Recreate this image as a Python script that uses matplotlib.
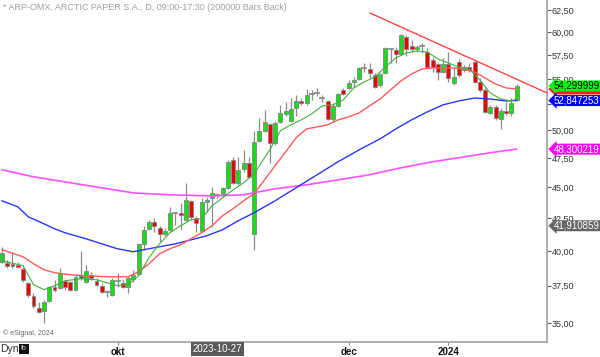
import matplotlib
matplotlib.use('Agg')
import matplotlib.pyplot as plt
import matplotlib.transforms as mtransforms
from matplotlib.patches import Rectangle
from matplotlib.ticker import FixedLocator, FixedFormatter, NullLocator

plt.rcParams['font.family'] = ['Liberation Sans', 'DejaVu Sans']

# ---------------- data ----------------
opens = [39.20, 39.13, 39.06, 38.99, 38.70, 37.71, 36.82, 36.00, 35.80, 36.48,
         37.44, 37.37, 37.85, 37.75, 37.23, 38.20, 37.78, 38.27, 37.85, 37.51,
         37.05, 36.89, 37.85, 37.71, 37.44, 37.99, 38.35, 40.53, 41.68, 42.21,
         41.75, 41.29, 41.60, 42.93, 42.93, 42.37, 43.89, 42.53, 41.52, 43.81,
         44.13, 44.38, 44.46, 44.96, 47.35, 45.38, 46.57, 47.09, 41.29, 49.05,
         49.97, 50.62, 48.87, 50.81, 51.55, 50.90, 52.14, 52.81, 52.61, 53.50,
         53.59, 53.10, 52.81, 51.09, 52.33, 53.90, 54.10, 54.70, 55.01, 56.14,
         56.03, 55.42, 54.40, 55.62, 58.15, 58.04, 57.61, 59.45, 58.48, 58.15,
         58.48, 57.82, 56.98, 56.56, 55.72, 56.56, 54.60, 56.77, 55.93, 56.24,
         56.77, 54.70, 53.90, 51.65, 52.24, 51.09, 51.84, 51.65, 52.91]
highs = [40.30, 39.35, 39.94, 39.20, 38.85, 37.78, 37.02, 36.41, 36.54, 37.51,
         37.92, 38.78, 37.99, 37.85, 38.27, 40.00, 38.99, 38.49, 38.06, 37.71,
         37.23, 38.06, 38.42, 37.99, 38.20, 38.63, 40.61, 41.91, 42.37, 42.53,
         41.91, 41.75, 43.41, 43.01, 43.73, 45.38, 43.97, 42.69, 44.13, 44.21,
         45.05, 44.54, 45.05, 47.35, 47.61, 47.61, 48.23, 47.61, 49.97, 51.18,
         51.94, 50.71, 50.90, 52.40, 52.71, 53.10, 53.40, 53.10, 53.99, 53.90,
         54.10, 53.40, 52.91, 52.61, 53.59, 54.10, 54.91, 55.21, 56.24, 56.66,
         56.66, 55.62, 55.62, 58.37, 58.26, 58.37, 59.78, 59.67, 59.12, 58.59,
         58.81, 58.26, 57.30, 56.66, 57.19, 57.82, 56.24, 57.09, 56.45, 56.66,
         56.98, 55.11, 54.10, 52.43, 52.43, 52.14, 52.71, 53.10, 54.50]
lows = [39.10, 38.78, 38.78, 38.78, 37.78, 36.75, 36.00, 35.67, 35.02, 36.41,
        37.09, 37.30, 37.23, 37.15, 37.16, 37.92, 37.71, 37.92, 37.51, 37.02,
        36.75, 36.82, 37.44, 37.37, 37.02, 37.78, 38.27, 40.09, 41.60, 41.45,
        40.68, 41.14, 41.52, 41.98, 41.60, 42.30, 42.37, 41.45, 41.45, 43.01,
        41.83, 44.13, 44.21, 44.90, 45.30, 45.21, 46.31, 45.80, 40.09, 48.93,
        49.88, 47.09, 48.70, 50.71, 51.37, 50.81, 51.37, 52.43, 52.43, 52.91,
        53.30, 52.71, 50.99, 50.81, 52.24, 53.40, 53.90, 54.20, 54.91, 55.72,
        55.11, 54.10, 54.20, 55.52, 56.66, 56.66, 57.51, 57.40, 57.82, 57.82,
        57.72, 56.14, 55.72, 54.91, 55.62, 54.70, 54.40, 55.21, 55.72, 55.72,
        54.60, 53.70, 51.65, 51.56, 50.99, 50.14, 51.46, 51.37, 52.81]
closes = [39.85, 38.92, 38.92, 38.85, 37.92, 36.89, 36.14, 35.74, 36.41, 37.44,
          37.23, 38.42, 37.40, 37.20, 38.13, 38.06, 38.56, 38.06, 37.58, 37.09,
          37.05, 37.92, 37.85, 37.44, 38.06, 38.27, 40.53, 41.60, 42.21, 41.91,
          41.29, 41.52, 42.93, 42.93, 42.77, 43.97, 42.61, 42.13, 43.81, 43.97,
          44.54, 44.38, 44.96, 47.18, 45.38, 46.48, 47.09, 45.89, 48.93, 49.97,
          50.81, 48.87, 50.71, 51.65, 51.85, 52.04, 52.81, 52.61, 53.40, 53.50,
          53.59, 53.10, 51.09, 52.33, 53.50, 53.50, 54.60, 54.91, 56.14, 56.14,
          55.62, 54.20, 55.52, 58.26, 58.15, 57.61, 59.67, 58.15, 58.15, 58.37,
          58.48, 56.24, 56.24, 55.72, 56.56, 55.11, 55.21, 55.42, 56.24, 55.93,
          54.70, 53.90, 51.75, 52.24, 51.18, 51.84, 51.65, 52.61, 54.30]

# moving averages (read at selected bars)
ma_green_x = [0, 4, 6, 8, 10, 12, 15, 18, 20, 22, 24, 26, 28, 30, 32, 34, 36, 38, 40, 42,
              44, 46, 48, 49, 51, 53, 55, 57, 59, 61, 63, 65, 67, 69, 71, 73, 75, 77, 79,
              81, 83, 85, 87, 89, 91, 93, 95, 97, 98]
ma_green_y = [39.28, 38.92, 37.58, 37.23, 37.51, 37.85, 37.99, 37.92, 37.71, 37.51, 37.58,
              38.20, 39.50, 40.53, 41.37, 41.91, 42.37, 42.45, 43.49, 44.13, 44.79, 45.38,
              46.14, 46.83, 48.23, 49.97, 50.52, 50.99, 51.56, 52.33, 52.43, 52.91, 54.10,
              54.70, 55.21, 56.24, 57.19, 57.72, 57.93, 57.82, 57.09, 56.66, 56.24, 56.03,
              54.91, 53.59, 53.00, 52.81, 53.00]
ma_red_x = [0, 4, 6, 8, 10, 13, 16, 20, 24, 26, 28, 30, 32, 34, 36, 38, 40, 42, 44, 46,
            48, 50, 52, 54, 56, 58, 60, 62, 64, 66, 68, 70, 72, 74, 76, 78, 80, 82, 84,
            86, 88, 90, 92, 94, 96, 98]
ma_red_y = [40.09, 39.57, 39.06, 38.63, 38.42, 38.27, 38.20, 38.13, 38.13, 38.49, 39.06,
            39.79, 40.16, 40.46, 40.91, 41.37, 41.91, 42.69, 43.25, 43.89, 44.46, 45.63,
            46.83, 48.05, 49.32, 50.14, 50.33, 50.52, 50.99, 51.27, 51.65, 52.33, 53.00,
            53.90, 54.81, 55.52, 56.03, 56.14, 56.14, 56.14, 56.03, 55.72, 55.11, 54.50,
            54.10, 54.00]
ma_blue_x = [0, 3, 5, 8, 10, 12, 16, 19, 22, 25, 27, 30, 33, 36, 39, 42, 45, 48, 52, 56,
             60, 64, 68, 72, 75, 78, 81, 84, 87, 90, 93, 96, 98]
ma_blue_y = [43.89, 43.41, 42.61, 42.06, 41.68, 41.37, 40.91, 40.53, 40.16, 39.94, 40.09,
             40.31, 40.53, 40.83, 41.14, 41.60, 42.30, 42.93, 43.89, 44.96, 46.06, 47.18,
             48.23, 49.23, 50.14, 50.99, 51.75, 52.43, 52.81, 53.10, 53.00, 52.81, 52.85]
ma_mag_x = [0, 6, 13, 19, 25, 32, 40, 46, 52, 58, 64, 70, 76, 82, 88, 94, 98]
ma_mag_y = [46.48, 45.89, 45.38, 44.96, 44.54, 44.38, 44.29, 44.38, 44.88, 45.21, 45.63,
            46.06, 46.66, 47.18, 47.61, 48.05, 48.30]
trend_x = [70.1, 103.8]
trend_y = [62.15, 53.60]

ytick_vals = [35.0, 37.5, 40.0, 42.5, 45.0, 47.5, 50.0, 52.5, 55.0, 57.5, 60.0, 62.5]
ytick_labels = ['35,00', '37,50', '40,00', '42,50', '45,00', '47,50', '50,00', '',
                '55,00', '57,50', '60,00', '62,50']
xtick_pos = [22, 66, 85]
xtick_labels = ['okt', 'dec', '2024']
cursor_pos = 41
cursor_label = '2023-10-27'

red_ma_label_value = 53.99  # hidden under the green label in the reference
price_labels = [  # (value, text, bg, fg)
    (54.30, '54,299999', '#00ff00', 'black'),
    (52.847253, '52,847253', '#0000ff', 'white'),
    (48.300219, '48,300219', '#ff00ff', 'white'),
    (41.910859, '41,910859', '#666666', 'white'),
]

title = '* ARP-OMX, ARCTIC PAPER S.A., D, 09:00-17:30 (200000 Bars Back)'

# ---------------- figure ----------------
W, H = 600, 357
fig = plt.figure(figsize=(W / 100, H / 100), dpi=100)
ax = fig.add_axes([0, 1 - 342 / H, 547 / W, 342 / H])
ax.set_yscale('log')
ax.set_xlim(-0.38, 103.8)
ax.set_ylim(33.79, 63.67)

up_col = '#11e011'
dn_col = '#ee0000'
edge = '#8c8c8c'
bw = 0.76
for i, (o, h, l, c) in enumerate(zip(opens, highs, lows, closes)):
    ax.plot([i, i], [l, h], color=edge, lw=0.9, zorder=2, solid_capstyle='butt')
    if c == o:
        ax.plot([i - bw / 2, i + bw / 2], [o, o], color=edge, lw=1.3, zorder=3)
    else:
        col = up_col if c > o else dn_col
        ax.add_patch(Rectangle((i - bw / 2, min(o, c)), bw, abs(c - o),
                               facecolor=col, edgecolor=edge, lw=0.7, zorder=3))

ax.plot(ma_mag_x, ma_mag_y, color='#ff50ff', lw=1.2, zorder=4)
ax.plot(ma_blue_x, ma_blue_y, color='#2a35ff', lw=1.0, zorder=4)
ax.plot(ma_red_x, ma_red_y, color='#ff5a5a', lw=1.0, zorder=4)
ax.plot(ma_green_x, ma_green_y, color='#40b040', lw=0.8, zorder=5)
ax.plot(trend_x, trend_y, color='#ff4545', lw=1.0, zorder=5, clip_on=False)

# axes styling
for s in ['left', 'top']:
    ax.spines[s].set_visible(False)
for s in ['right', 'bottom']:
    ax.spines[s].set_color('#a8a8a8')
    ax.spines[s].set_linewidth(1.3)
ax.yaxis.tick_right()
ax.yaxis.set_major_locator(FixedLocator(ytick_vals))
ax.yaxis.set_major_formatter(FixedFormatter(ytick_labels))
ax.yaxis.set_minor_locator(NullLocator())
ax.tick_params(axis='y', which='major', direction='out', length=3, width=0.8,
               color='#555555', labelsize=6.5, labelcolor='#333333', pad=0.5)
ax.xaxis.set_major_locator(FixedLocator(xtick_pos))
ax.xaxis.set_major_formatter(FixedFormatter(xtick_labels))
ax.tick_params(axis='x', direction='out', length=2, width=0.8, color='#888888',
               labelsize=7, pad=1.5)
for t in ax.get_xticklabels():
    t.set_fontweight('bold')
    t.set_color('#111111')

# cursor date label
tr_x = mtransforms.blended_transform_factory(ax.transData, ax.transAxes)
ax.text(cursor_pos, -0.007, cursor_label, transform=tr_x, ha='center', va='top',
        fontsize=7, color='white', clip_on=False, zorder=6,
        bbox=dict(boxstyle='square,pad=0.2', fc='#5a5a5a', ec='none'))

# price labels on the right
tr_y = mtransforms.blended_transform_factory(ax.transAxes, ax.transData)
# red MA label: only its edge shows below the green one
ax.text(1.0 + 7 / 547, red_ma_label_value, ' ' * 17, transform=tr_y, ha='left',
        va='center', fontsize=7, clip_on=False, zorder=6,
        bbox=dict(boxstyle='larrow,pad=0.05', fc='#ff2020', ec='none'))
for k, (v, txt, bg, fg) in enumerate(price_labels):
    ax.text(1.0 + 7 / 547, v, txt, transform=tr_y, ha='left', va='center',
            fontsize=7, color=fg, clip_on=False, zorder=7 + k,
            bbox=dict(boxstyle='larrow,pad=0.05', fc=bg, ec='none'))

fig.text(3 / W, 1 - 8 / H, title, ha='left', va='center', fontsize=6.5, color='#a0a0a0')
fig.text(3 / W, 1 - 333 / H, '\u00a9 eSignal, 2024', ha='left', va='center',
         fontsize=5, color='#666666')
fig.text(0 / W, 1 - 349 / H, 'Dyn', ha='left', va='center', fontsize=7.5, color='#333333')
fig.text(21 / W, 1 - 349 / H, 'fo', ha='left', va='center', fontsize=5, color='#dddddd',
         bbox=dict(boxstyle='square,pad=0.25', fc='#111111', ec='none'))

fig.savefig('out.png', dpi=100, facecolor='white')
